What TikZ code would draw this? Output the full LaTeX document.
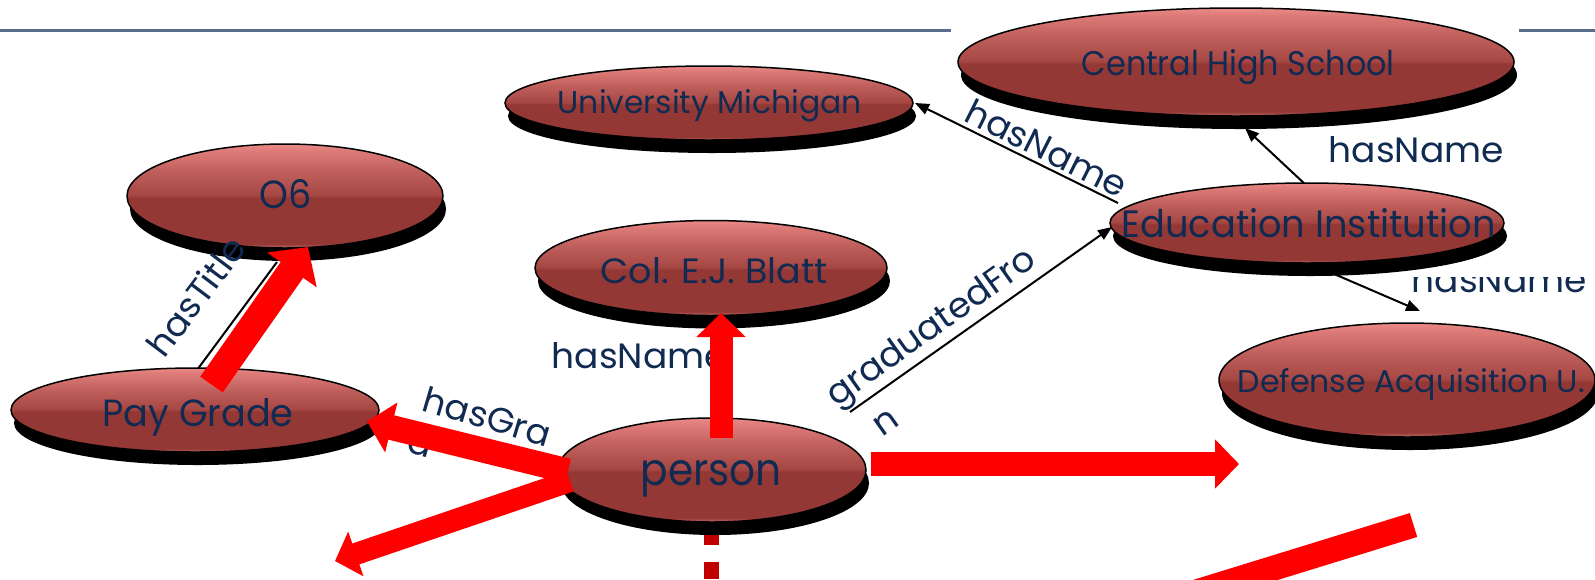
\documentclass[tikz,border=0pt]{standalone}
\usepackage{fontspec}
\setmainfont{Poppins}
\usepackage{graphicx}
\usetikzlibrary{arrows.meta,shadows,shapes.geometric}
\definecolor{txt}{HTML}{102A52}
\definecolor{rulec}{HTML}{5A6D8A}
\definecolor{ovtop}{HTML}{EB8A87}
\definecolor{ovhi}{HTML}{DE7C79}
\definecolor{ovup}{HTML}{C0605C}
\definecolor{ovmid}{HTML}{A64743}
\definecolor{ovdark}{HTML}{933835}
\definecolor{ovrim}{HTML}{C66A66}
\definecolor{dashred}{HTML}{C00000}
\pgfdeclareverticalshading{glossy}{100bp}{color(0bp)=(ovrim); color(25bp)=(ovrim); color(27bp)=(ovdark); color(49bp)=(ovdark); color(50.5bp)=(ovmid); color(62bp)=(ovup); color(72bp)=(ovhi); color(75bp)=(ovtop); color(100bp)=(ovtop)}
\newlength\pxu \setlength\pxu{0.1mm}
\newlength\refw \newlength\refh
\newcommand\lblfont{\fontsize{20}{24}\selectfont}
\newcommand\fitt[3]{\resizebox{#1\pxu}{#2\pxu}{#3}}
\newcommand\lbl[1]{\scalebox{\lsx}[\lsy]{\lblfont #1}}
\tikzset{
  oval/.style={ellipse, draw=black, line width=0.15mm, shading=glossy, inner sep=0pt,
    drop shadow={shadow xshift=0.3mm, shadow yshift=-1.3mm, fill=black, opacity=1}},
  ntext/.style={text=txt, inner sep=0pt, anchor=base west},
  conn/.style={draw=black, line width=0.2mm, -{Triangle[length=1.4mm,width=1.1mm]}},
  plainconn/.style={draw=black, line width=0.2mm},
  rarrow/.style={draw=red, line width=#1}
}
\begin{document}
\settowidth\refw{\lblfont hasName}%
\settoheight\refh{\lblfont hasName}%
\pgfmathsetmacro\lsx{175*0.284528/\refw}%
\pgfmathsetmacro\lsy{26*0.284528/\refh}%
\begin{tikzpicture}[x=0.1mm,y=-0.1mm]
\useasboundingbox (0,0) rectangle (1595,579);
\clip (0,0) rectangle (1595,579);

% top rule
\draw[rulec, line width=0.27mm] (0,30.5) -- (951,30.5);
\draw[rulec, line width=0.27mm] (1519,30.5) -- (1595,30.5);

% dashed stub under person
\coordinate (ds) at (711.5,528);
\coordinate (de) at (711.5,600);
\draw[dashred, line width=1.5mm, dash pattern=on 1.7mm off 1.7mm] (ds) -- (de);

% labels lying under other shapes
\begin{scope}
  \clip (1380,277) rectangle (1595,320);
  \node[ntext] (lDef) at (1411,292) {\lbl{hasName}};
\end{scope}
\node[ntext] (lCol) at (551,368) {\lbl{hasName}};
\node[ntext, rotate=-16.5] (lGra) at (420,410) {\lbl{hasGra}};
\node[ntext, rotate=-16.5] (lGrb) at (405,451) {\lbl{d}};
\node[ntext, rotate=35.4] (lGfb) at (882,438) {\lbl{n}};

% connector end points
\coordinate (c1s) at (197,370);  \coordinate (c1e) at (277,262);
\coordinate (c2s) at (850,412);  \coordinate (c2e) at (1112,227);
\coordinate (c3s) at (1118,203); \coordinate (c3e) at (915,103);
\coordinate (c4s) at (1307,186); \coordinate (c4e) at (1245,128);
\coordinate (c5s) at (1297,258); \coordinate (c5e) at (1420,311);
\draw[plainconn] (c1s) -- (c1e);
\draw[conn] (c2s) -- (c2e);
\draw[conn] (c3s) -- (c3e);
\draw[conn] (c4s) -- (c4e);
\draw[conn] (c5s) -- (c5e);

% ovals
\node[oval, minimum width=55.6mm, minimum height=10.8mm] (chs) at (1236,62) {};
\node[oval, minimum width=40.8mm, minimum height=7.4mm] (um) at (709,103) {};
\node[oval, minimum width=31.6mm, minimum height=10.4mm] (o6) at (285,196) {};
\node[oval, minimum width=35.2mm, minimum height=9.5mm] (col) at (711,268) {};
\node[oval, minimum width=39.4mm, minimum height=8mm] (edu) at (1307,223) {};
\node[oval, minimum width=37.6mm, minimum height=11.4mm] (def) at (1407,380) {};
\node[oval, minimum width=36.8mm, minimum height=8.4mm] (pg) at (195,410) {};
\node[oval, minimum width=30.8mm, minimum height=10.4mm] (person) at (712,470) {};

% oval texts
\node[ntext] (chsT) at (1081,75) {\fitt{313}{26}{Central High School}};
\node[ntext] (umT) at (557,113) {\fitt{304}{24}{University Michigan}};
\node[ntext] (o6T) at (259,208) {\fitt{52}{29}{O6}};
\node[ntext] (colT) at (600,283) {\fitt{227}{26}{Col. E.J. Blatt}};
\node[ntext] (eduT) at (1121,237) {\fitt{374}{29}{Education Institution}};
\node[ntext] (defT) at (1237,392) {\fitt{347}{24}{Defense Acquisition U.}};
\node[ntext] (pgT) at (102,426) {\fitt{191}{28}{Pay Grade}};
\node[ntext] (personT) at (640,485) {\fitt{141}{25}{person}};

% other labels
\node[ntext] (lChs) at (1328,162.5) {\lbl{hasName}};
\node[ntext, rotate=-26.6] (lUm) at (962,120) {\lbl{hasName}};
\node[ntext, rotate=53] (lTit) at (164,360) {\lbl{hasTitle}};
\node[ntext, rotate=35.4] (lGfa) at (836,408) {\lbl{graduatedFro}};

% red block arrows
\coordinate (a1s) at (211.5,384.5); \coordinate (a1e) at (308,247);
\coordinate (a2s) at (721,438);     \coordinate (a2e) at (721,313);
\coordinate (a3s) at (568,471);     \coordinate (a3e) at (367,421.5);
\coordinate (a4s) at (570,481);     \coordinate (a4e) at (335,561);
\coordinate (a5s) at (871,464);     \coordinate (a5e) at (1239,464);
\coordinate (a6s) at (1413.5,525);  \coordinate (a6e) at (1031,643);
\draw[rarrow=2.75mm, -{Triangle[length=2.8mm,width=5.9mm]}] (a1s) -- (a1e);
\draw[rarrow=2.3mm, -{Triangle[length=2.4mm,width=4.8mm]}] (a2s) -- (a2e);
\draw[rarrow=2.5mm, -{Triangle[length=2.5mm,width=5mm]}] (a3s) -- (a3e);
\draw[rarrow=2.2mm, -{Triangle[length=2.2mm,width=4.6mm]}] (a4s) -- (a4e);
\draw[rarrow=2.4mm, -{Triangle[length=2.4mm,width=4.8mm]}] (a5s) -- (a5e);
\draw[rarrow=2.5mm] (a6s) -- (a6e);
\end{tikzpicture}
\end{document}
